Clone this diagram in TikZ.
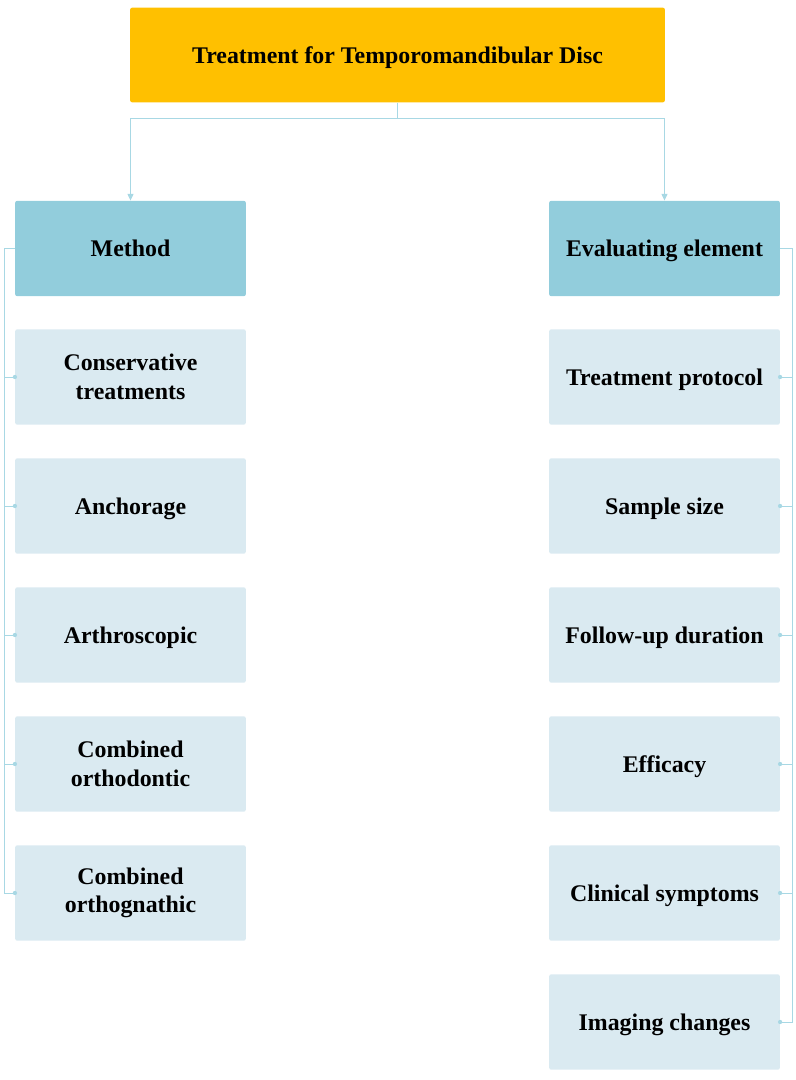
\documentclass[tikz,border=0pt]{standalone}
\usepackage{fontspec}
\setmainfont{Liberation Serif}
\usetikzlibrary{arrows.meta}
\definecolor{titlefill}{HTML}{FFC000}
\definecolor{headfill}{HTML}{92CDDC}
\definecolor{itemfill}{HTML}{DAEAF1}
\definecolor{linkcol}{HTML}{A8D8E4}
\begin{document}
\begin{tikzpicture}[
  x = 0.75pt, y = -0.75pt,
  every node/.style = {inner sep=2pt, font=\fontsize{17.9}{21.5}\selectfont\bfseries, align=center},
  titlebox/.style   = {fill=titlefill, rounded corners=1.5pt, minimum width=401pt, minimum height=71pt},
  headbox/.style    = {fill=headfill, rounded corners=1.5pt, minimum width=173pt, minimum height=71.5pt},
  itembox/.style    = {fill=itemfill, rounded corners=1.5pt, minimum width=173pt, minimum height=71.5pt},
  oneline/.style    = {text depth=0pt},
  link/.style       = {draw=linkcol, line width=0.75pt},
  tip/.style        = {-{Triangle[length=5pt, width=4.5pt]}},
]
\useasboundingbox (0,0) rectangle (795,1080);

% top
\node[titlebox, oneline] (top) at (397.5, 55) {Treatment for Temporomandibular Disc};
% headers
\node[headbox] (meth) at (130.5, 248.5) {Method};
\node[headbox, oneline] (eval) at (664.5, 248.5) {Evaluating element};
% method column
\node[itembox] (cons)  at (130.5, 377) {Conservative\\treatments};
\node[itembox, oneline] (anch)  at (130.5, 506) {Anchorage};
\node[itembox, oneline] (arth)  at (130.5, 635) {Arthroscopic};
\node[itembox] (orthd) at (130.5, 764) {Combined\\orthodontic};
\node[itembox] (orthg) at (130.5, 893) {Combined\\orthognathic};
% evaluating column
\node[itembox, oneline] (prot) at (664.5, 377)  {Treatment protocol};
\node[itembox, oneline] (samp) at (664.5, 506)  {Sample size};
\node[itembox, oneline] (foll) at (664.5, 635)  {Follow-up duration};
\node[itembox, oneline] (effi) at (664.5, 764)  {Efficacy};
\node[itembox, oneline] (clin) at (664.5, 893)  {Clinical symptoms};
\node[itembox, oneline] (imag) at (664.5, 1022) {Imaging changes};

\draw[link, tip] (top.south) -- ++(0,16) -| (meth.north);
\draw[link, tip] (top.south) -- ++(0,16) -| (eval.north);

\foreach \c in {cons, anch, arth, orthd, orthg} {
  \draw[link] (meth.west) -- ++(-10,0) |- (\c.west);
  \fill[linkcol] (\c.west) circle (1.6pt);
}
\foreach \c in {prot, samp, foll, effi, clin, imag} {
  \draw[link] (eval.east) -- ++(12,0) |- (\c.east);
  \fill[linkcol] (\c.east) circle (1.6pt);
}

\end{tikzpicture}
\end{document}
